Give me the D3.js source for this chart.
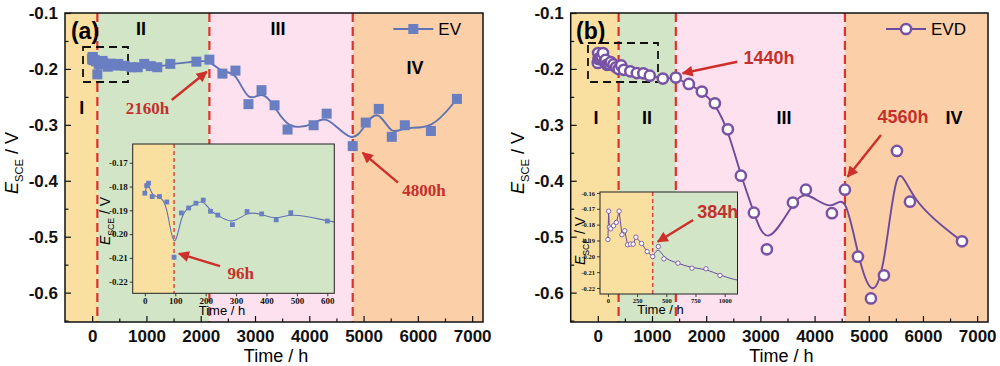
<!DOCTYPE html>
<html>
<head>
<meta charset="utf-8">
<script src="https://cdn.jsdelivr.net/npm/d3@7"></script>
<style>
  body { margin: 0; background: #fff; }
  svg text { font-family: Arial, "Liberation Sans", sans-serif; }
</style>
</head>
<body>
<svg id="chart" width="1000" height="366"></svg>
<script>
// ---- data ----
const evTime = [0, 6, 12, 24, 48, 72, 96, 120, 144, 168, 192, 216, 240, 288, 336, 384, 432, 480, 600,
  720, 840, 960, 1080, 1200, 1440, 1920, 2160, 2400, 2640, 2880, 3120, 3360, 3600, 4080, 4320, 4800,
  5040, 5280, 5520, 5760, 6240, 6720];
const evValue = [-0.1828, -0.1796, -0.1786, -0.1842, -0.1842, -0.1865, -0.2097, -0.1911, -0.189, -0.187,
  -0.1857, -0.1904, -0.192, -0.196, -0.1905, -0.1915, -0.194, -0.191, -0.1945,
  -0.197, -0.197, -0.191, -0.195, -0.197, -0.191, -0.187, -0.1834, -0.2084, -0.203, -0.263, -0.238,
  -0.265, -0.3084, -0.3007, -0.280, -0.338, -0.296, -0.2715, -0.3214, -0.3007, -0.311, -0.2536];

const evdTime = [0, 6, 12, 24, 48, 72, 96, 120, 144, 168, 192, 216, 240, 288, 336, 384, 432, 480, 600,
  720, 840, 960, 1200, 1440, 1680, 1920, 2160, 2400, 2640, 2880, 3120, 3600, 3840, 4320, 4560, 4800,
  5040, 5280, 5520, 5760, 6720];
const evdValue = [-0.1894, -0.1715, -0.1816, -0.1826, -0.1807, -0.1786, -0.1715, -0.1864, -0.1839, -0.1927,
  -0.1923, -0.1923, -0.1879, -0.1919, -0.197, -0.2002, -0.1938, -0.2016, -0.2043, -0.2075, -0.2079, -0.2121,
  -0.2173, -0.2155, -0.2268, -0.2405, -0.2614, -0.308, -0.3908, -0.457, -0.5226, -0.439, -0.4159, -0.458,
  -0.4159, -0.5357, -0.6103, -0.569, -0.3467, -0.4373, -0.5083];

// stage boundaries (h)
const stagesEV = [96, 2160, 4800];
const stagesEVD = [384, 1440, 4560];
const stageNames = ["I", "II", "III", "IV"];

// tick labels
const xTicks = [0, 1000, 2000, 3000, 4000, 5000, 6000, 7000];
const xMinor = [500, 1500, 2500, 3500, 4500, 5500, 6500];
const yTicks = [-0.6, -0.5, -0.4, -0.3, -0.2, -0.1];
const yMinor = [-0.65, -0.55, -0.45, -0.35, -0.25, -0.15];
const insetTicksEV = { x: [0, 100, 200, 300, 400, 500, 600], y: [-0.22, -0.21, -0.20, -0.19, -0.18, -0.17] };
const insetTicksEVD = { x: [0, 250, 500, 750, 1000], y: [-0.22, -0.21, -0.20, -0.19, -0.18, -0.17, -0.16] };

// ---- styles ----
const bandColors = ["#f9e0a0", "#d2e6c7", "#fde1ee", "#fbcfa7"];
const RED = "#e0302c";
const ARROW = "#cf2f2a";
const TXT_RED = "#c4302b";
const TOP = 13, BOTTOM = 322;
const xDomain = [-500, 7200];
const yDomain = [-0.6525, -0.1];

const svg = d3.select("#chart");
const defs = svg.append("defs");
defs.append("marker")
    .attr("id", "arrowHead")
    .attr("viewBox", "0 0 10 10")
    .attr("refX", 9).attr("refY", 5)
    .attr("markerUnits", "userSpaceOnUse")
    .attr("markerWidth", 13).attr("markerHeight", 11)
    .attr("orient", "auto")
  .append("path")
    .attr("d", "M0,0 L10,5 L0,10 Z")
    .attr("fill", ARROW);

const panels = [
  {
    id: "a", left: 65, right: 483, time: evTime, value: evValue, stages: stagesEV,
    shape: "square", color: "#6a7ec2", lineColor: "#5f72b3", label: "(a)", legend: "EV",
    markSize: 10,
    numerals: [[-190, -0.2806], [900, -0.1393], [3424, -0.1393], [5948, -0.209]],
    box: [-168, 661, -0.1608, -0.2234],
    annoFont: "'Liberation Serif', 'Times New Roman', serif", annoSize: 17,
    annos: [
      { text: "2160h", tx: 1020, ty: -0.2806, from: [1466, -0.2556], to: [2111, -0.205] },
      { text: "4800h", tx: 6113, ty: -0.427, from: [5634, -0.4034], to: [4984, -0.35] }
    ],
    inset: {
      left: 132.7, right: 334.3, top: 144, bottom: 293.3,
      xDomain: [-40, 623], yDomain: [-0.2249, -0.1621], ticks: insetTicksEV, stage: 96,
      tickFont: 9, fmt: 2, markerSize: 4.8, linearUntil: null,
      yTitle: [105, 221], xTitle: [222, 314.5],
      anno: { text: "96h", tx: 315, ty: -0.2187, from: [247, -0.2135], to: [112, -0.2082] },
      annoFont: "'Liberation Serif', 'Times New Roman', serif", annoSize: 17
    }
  },
  {
    id: "b", left: 570.7, right: 988, time: evdTime, value: evdValue, stages: stagesEVD,
    shape: "circle", color: "#7852a4", lineColor: "#6c4b9c", label: "(b)", legend: "EVD",
    markSize: 5.1,
    numerals: [[-33, -0.2985], [908, -0.2985], [3436, -0.2985], [6572, -0.2985]],
    box: [-181, 1111, -0.1536, -0.2234],
    annoFont: "Arial, 'Liberation Sans', sans-serif", annoSize: 18,
    annos: [
      { text: "1440h", tx: 3159, ty: -0.1912, from: [2574, -0.1871], to: [1566, -0.2078] },
      { text: "4560h", tx: 5631, ty: -0.2967, from: [5225, -0.3181], to: [4611, -0.3927] }
    ],
    inset: {
      left: 600, right: 737.5, top: 192, bottom: 294,
      xDomain: [-68, 1110], yDomain: [-0.2238, -0.1594], ticks: insetTicksEVD, stage: 384,
      tickFont: 6.5, fmt: 2, markerSize: 2.2, linearUntil: 384,
      yTitle: [580, 241], xTitle: [660.5, 313.5],
      anno: { text: "384h", tx: 940, ty: -0.1755, from: [730, -0.1771], to: [427, -0.1908] },
      annoFont: "Arial, 'Liberation Sans', sans-serif", annoSize: 18
    }
  }
];

function yTitle(g, cx, cy, size) {
  const t = g.append("text")
      .attr("transform", `translate(${cx},${cy}) rotate(-90)`)
      .attr("text-anchor", "middle")
      .attr("dy", "0.35em")
      .style("font-size", size + "px");
  t.append("tspan").style("font-style", "italic").text("E");
  t.append("tspan").attr("dy", size * 0.28).style("font-size", (size * 0.62) + "px").text("SCE");
  t.append("tspan").attr("dy", -size * 0.28).text(" / V");
}

function drawMarkers(g, pts, shape, size, color, strokeW) {
  if (shape === "square") {
    g.selectAll(null).data(pts).join("rect")
        .attr("x", d => d[0] - size / 2).attr("y", d => d[1] - size / 2)
        .attr("width", size).attr("height", size)
        .attr("fill", color);
  } else {
    g.selectAll(null).data(pts).join("circle")
        .attr("cx", d => d[0]).attr("cy", d => d[1]).attr("r", size)
        .attr("fill", "#fff").attr("stroke", color).attr("stroke-width", strokeW);
  }
}

panels.forEach(p => {
  const x = d3.scaleLinear().domain(xDomain).range([p.left, p.right]);
  const y = d3.scaleLinear().domain(yDomain).range([BOTTOM, TOP]);
  const g = svg.append("g").attr("class", "panel-" + p.id);

  // stage backgrounds
  const edges = [xDomain[0], ...p.stages, xDomain[1]];
  g.selectAll(".band").data(d3.pairs(edges)).join("rect")
      .attr("class", "band")
      .attr("x", d => x(d[0])).attr("width", d => x(d[1]) - x(d[0]))
      .attr("y", TOP).attr("height", BOTTOM - TOP)
      .attr("fill", (d, i) => bandColors[i]);

  // stage boundaries
  g.selectAll(".stage").data(p.stages).join("line")
      .attr("x1", d => x(d)).attr("x2", d => x(d))
      .attr("y1", TOP).attr("y2", BOTTOM)
      .attr("stroke", RED).attr("stroke-width", 2.2)
      .attr("stroke-dasharray", "9,5");

  // stage numerals
  g.selectAll(".num").data(p.numerals).join("text")
      .attr("x", d => x(d[0])).attr("y", d => y(d[1]))
      .attr("text-anchor", "middle")
      .style("font-size", "18px").style("font-weight", "bold")
      .text((d, i) => stageNames[i]);

  // dashed zoom box
  g.append("rect")
      .attr("x", x(p.box[0])).attr("y", y(p.box[2]))
      .attr("width", x(p.box[1]) - x(p.box[0])).attr("height", y(p.box[3]) - y(p.box[2]))
      .attr("fill", "none").attr("stroke", "#111").attr("stroke-width", 1.8)
      .attr("stroke-dasharray", "8,5");

  // curve + markers
  const pts = p.time.map((t, i) => [x(t), y(p.value[i])]);
  g.append("path")
      .attr("d", d3.line().curve(d3.curveBasis)(pts))
      .attr("fill", "none").attr("stroke", p.lineColor).attr("stroke-width", 1.9);
  drawMarkers(g, pts, p.shape, p.markSize, p.color, 2.5);

  // axes (inward ticks)
  const ax = g.append("g").attr("transform", `translate(0,${BOTTOM})`)
      .call(d3.axisBottom(x).tickValues(xTicks).tickSize(-6).tickPadding(8).tickFormat(d3.format("d")));
  ax.selectAll("text").style("font-size", "17px").style("font-weight", "bold").attr("fill", "#111");
  g.append("g").attr("transform", `translate(0,${BOTTOM})`)
      .call(d3.axisBottom(x).tickValues(xMinor).tickSize(-3.5).tickFormat(""));
  const ay = g.append("g").attr("transform", `translate(${p.left},0)`)
      .call(d3.axisLeft(y).tickValues(yTicks).tickSize(-6).tickPadding(7).tickFormat(d => d.toFixed(1)));
  ay.selectAll("text").style("font-size", "17px").style("font-weight", "bold").attr("fill", "#111");
  g.append("g").attr("transform", `translate(${p.left},0)`)
      .call(d3.axisLeft(y).tickValues(yMinor).tickSize(-3.5).tickFormat(""));
  g.selectAll(".domain").remove();
  g.selectAll(".tick line").attr("stroke", "#111").attr("stroke-width", 1.2);

  g.append("rect")
      .attr("x", p.left).attr("y", TOP)
      .attr("width", p.right - p.left).attr("height", BOTTOM - TOP)
      .attr("fill", "none").attr("stroke", "#111").attr("stroke-width", 1.5);

  // axis titles
  g.append("text")
      .attr("x", (p.left + p.right) / 2 + 2).attr("y", 362)
      .attr("text-anchor", "middle").style("font-size", "18px")
      .text("Time / h");
  yTitle(g, p.left - 53, 163, 18);

  // panel label
  g.append("text")
      .attr("x", p.left + 20).attr("y", TOP + 26)
      .attr("text-anchor", "middle")
      .style("font-size", "23px").style("font-weight", "bold")
      .text(p.label);

  // legend
  const lg = g.append("g");
  const lt = lg.append("text")
      .attr("x", p.right - 22).attr("y", TOP + 22)
      .attr("text-anchor", "end").style("font-size", "17px")
      .text(p.legend);
  const tw = lt.node().getComputedTextLength();
  const lx2 = p.right - 22 - tw - 5, lx1 = lx2 - 40, ly = TOP + 16;
  lg.append("line").attr("x1", lx1).attr("x2", lx2).attr("y1", ly).attr("y2", ly)
      .attr("stroke", p.lineColor).attr("stroke-width", 1.9);
  drawMarkers(lg, [[(lx1 + lx2) / 2, ly]], p.shape, p.markSize, p.color, 2.5);

  // annotations
  p.annos.forEach(a => {
    g.append("line")
        .attr("x1", x(a.from[0])).attr("y1", y(a.from[1]))
        .attr("x2", x(a.to[0])).attr("y2", y(a.to[1]))
        .attr("stroke", ARROW).attr("stroke-width", 2.4)
        .attr("marker-end", "url(#arrowHead)");
    g.append("text")
        .attr("x", x(a.tx)).attr("y", y(a.ty))
        .attr("text-anchor", "middle")
        .style("font-family", p.annoFont).style("font-size", p.annoSize + "px")
        .style("font-weight", "bold").attr("fill", TXT_RED)
        .text(a.text);
  });

  // ---- inset ----
  const s = p.inset;
  const ix = d3.scaleLinear().domain(s.xDomain).range([s.left, s.right]);
  const iy = d3.scaleLinear().domain(s.yDomain).range([s.bottom, s.top]);
  const ig = g.append("g").attr("class", "inset");
  const clipId = "clip-" + p.id;
  defs.append("clipPath").attr("id", clipId)
    .append("rect").attr("x", s.left).attr("y", s.top)
      .attr("width", s.right - s.left).attr("height", s.bottom - s.top);

  ig.append("rect").attr("x", s.left).attr("y", s.top)
      .attr("width", ix(s.stage) - s.left).attr("height", s.bottom - s.top)
      .attr("fill", bandColors[0]);
  ig.append("rect").attr("x", ix(s.stage)).attr("y", s.top)
      .attr("width", s.right - ix(s.stage)).attr("height", s.bottom - s.top)
      .attr("fill", bandColors[1]);
  ig.append("line")
      .attr("x1", ix(s.stage)).attr("x2", ix(s.stage))
      .attr("y1", s.top).attr("y2", s.bottom)
      .attr("stroke", RED).attr("stroke-width", 1.3).attr("stroke-dasharray", "4,3");

  const dg = ig.append("g").attr("clip-path", `url(#${clipId})`);
  const ipts = p.time.map((t, i) => [ix(t), iy(p.value[i]), t]);
  if (s.linearUntil != null) {
    dg.append("path")
        .attr("d", d3.line()(ipts.filter(d => d[2] <= s.linearUntil)))
        .attr("fill", "none").attr("stroke", p.lineColor).attr("stroke-width", 1);
    dg.append("path")
        .attr("d", d3.line().curve(d3.curveBasis)(ipts.filter(d => d[2] >= s.linearUntil)))
        .attr("fill", "none").attr("stroke", p.lineColor).attr("stroke-width", 1);
  } else {
    dg.append("path")
        .attr("d", d3.line().curve(d3.curveBasis)(ipts))
        .attr("fill", "none").attr("stroke", p.lineColor).attr("stroke-width", 1.1);
  }
  drawMarkers(dg, ipts, p.shape, s.markerSize, p.color, 0.9);

  const iax = ig.append("g").attr("transform", `translate(0,${s.bottom})`)
      .call(d3.axisBottom(ix).tickValues(s.ticks.x).tickSize(3).tickPadding(1.5).tickFormat(d3.format("d")));
  const iay = ig.append("g").attr("transform", `translate(${s.left},0)`)
      .call(d3.axisLeft(iy).tickValues(s.ticks.y).tickSize(3).tickPadding(2).tickFormat(d => d.toFixed(s.fmt)));
  [iax, iay].forEach(a => {
    a.select(".domain").remove();
    a.selectAll(".tick line").attr("stroke", "#111").attr("stroke-width", 0.8);
    a.selectAll("text")
        .style("font-family", "'Liberation Serif', 'Times New Roman', serif")
        .style("font-size", s.tickFont + "px").style("font-weight", "bold").attr("fill", "#111");
  });
  ig.append("rect").attr("x", s.left).attr("y", s.top)
      .attr("width", s.right - s.left).attr("height", s.bottom - s.top)
      .attr("fill", "none").attr("stroke", "#222").attr("stroke-width", 1);

  ig.append("text")
      .attr("x", s.xTitle[0]).attr("y", s.xTitle[1])
      .attr("text-anchor", "middle").style("font-size", "13px")
      .text("Time / h");
  yTitle(ig, s.yTitle[0], s.yTitle[1], 14);

  const a = s.anno;
  ig.append("line")
      .attr("x1", ix(a.from[0])).attr("y1", iy(a.from[1]))
      .attr("x2", ix(a.to[0])).attr("y2", iy(a.to[1]))
      .attr("stroke", ARROW).attr("stroke-width", 2.4)
      .attr("marker-end", "url(#arrowHead)");
  ig.append("text")
      .attr("x", ix(a.tx)).attr("y", iy(a.ty))
      .attr("text-anchor", "middle")
      .style("font-family", s.annoFont).style("font-size", s.annoSize + "px")
      .style("font-weight", "bold").attr("fill", TXT_RED)
      .text(a.text);
});
</script>
</body>
</html>
